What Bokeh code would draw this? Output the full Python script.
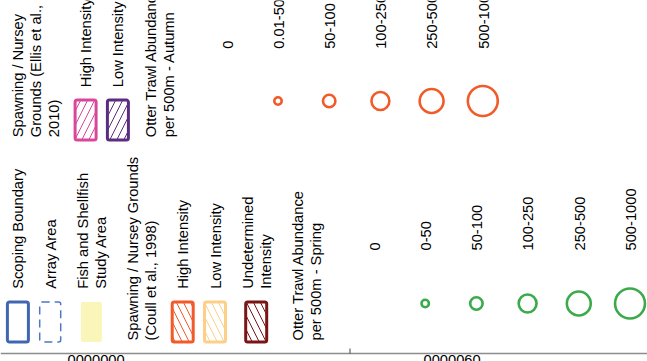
import numpy as np
from bokeh.plotting import figure
from bokeh.models import Range1d
from bokeh.core.properties import value
from bokeh.embed import file_html
from bokeh.resources import INLINE

# ---------------- data ----------------
area_labels = ["Scoping Boundary", "Array Area", "Fish and Shellfish\nStudy Area"]
coull_title = "Spawning / Nursey Grounds\n(Coull et al., 1998)"
coull_labels = ["High Intensity", "Low Intensity", "Undetermined\nIntensity"]
spring_title = "Otter Trawl Abundance\nper 500m - Spring"
spring_classes = ["0", "0-50", "50-100", "100-250", "250-500", "500-1000"]

ellis_title = "Spawning / Nursey\nGrounds (Ellis et al.,\n2010)"
ellis_labels = ["High Intensity", "Low Intensity"]
autumn_title = "Otter Trawl Abundance\nper 500m - Autumn"
autumn_classes = ["0", "0.01-50", "50-100", "100-250", "250-500", "500-1000"]

# map-frame coordinate labels (cut off at the bottom edge)
frame_labels = ["0000000", "0000060"]

# ---------------- styles ----------------
FONT = value("Liberation Sans")
FS = "14.7px"
LH = 17.8       # line step (rotated text)
GAP = 32.3      # gap between entries
TEXT_DX = -4.5  # renderer offset correction for rotated text
CLASS_STEP = 51.2
RECT_W, RECT_H = 21, 40
RING_OUTER = [0, 10, 15, 20.5, 26.5, 32.5]
RING_LW = 2.6

area_styles = [
    dict(line_color="#4066B1", line_width=3, fill_color="white"),
    dict(line_color="#4E78C4", line_width=1.5, fill_color="white", line_dash="8 5"),
    dict(line_color=None, fill_color="#FAF6BA"),
]
coull_colors = ["#F15A29", "#FDD089", "#7A1517"]
ellis_colors = ["#D9479A", "#5C2C80"]
spring_color = "#3BAA4A"
autumn_color = "#F15A29"

p = figure(width=647, height=361, x_range=Range1d(0, 647), y_range=Range1d(361, 0),
           output_backend="svg", toolbar_location=None, min_border=0,
           x_axis_location=None, y_axis_location=None)
p.grid.visible = False
p.outline_line_color = None
p.background_fill_color = "white"


def put_text(xs, ys, texts):
    p.text(x=[x + TEXT_DX for x in xs], y=ys, text=texts, angle=np.pi / 2,
           text_font=FONT, text_font_size=FS, text_align="left",
           text_baseline="alphabetic", text_color="black")


def draw_text(lines, x0, y0):
    parts = lines.split("\n")
    xs = [x0 + LH * k for k in range(len(parts))]
    put_text(xs, [y0] * len(parts), parts)
    return xs


def draw_rect(cx, cy, style, hatch=None):
    kw = dict(style)
    if hatch:
        kw.update(hatch_pattern=hatch, hatch_color=kw["line_color"], hatch_scale=14,
                  hatch_weight=1)
    p.quad(left=[cx - RECT_W / 2], right=[cx + RECT_W / 2],
           top=[cy - RECT_H / 2], bottom=[cy + RECT_H / 2], border_radius=2, **kw)


def draw_group(entries, x_start, ys, classes, ring_color):
    cursor = x_start
    last = cursor
    for lines, kind, style, hatch in entries:
        y0 = ys["head"] if kind == "head" else ys["item"]
        xs = draw_text(lines, cursor, y0)
        if kind == "sym":
            cx = float(np.mean(xs)) - 5.0
            draw_rect(cx, ys["rect"], style, hatch)
        last = xs[-1]
        cursor = last + GAP
    centers = [last + 53.8 + CLASS_STEP * i for i in range(len(classes))]
    put_text([c + 5.25 for c in centers], [ys["count"]] * len(classes), classes)
    rx = [c for c, o in zip(centers, RING_OUTER) if o > 0]
    rs = [o - RING_LW for o in RING_OUTER if o > 0]
    p.scatter(x=rx, y=[ys["ring"]] * len(rx), size=rs, marker="circle",
              fill_alpha=0, line_color=ring_color, line_width=RING_LW)


left_entries = [(lab, "sym", st, None) for lab, st in zip(area_labels, area_styles)]
left_entries.append((coull_title, "head", None, None))
left_entries += [(lab, "sym", dict(line_color=c, line_width=3, fill_color="white"), "\\")
                 for lab, c in zip(coull_labels, coull_colors)]
left_entries.append((spring_title, "head", None, None))

right_entries = [(ellis_title, "head", None, None)]
right_entries += [(lab, "sym", dict(line_color=c, line_width=3, fill_color="white"), "/")
                  for lab, c in zip(ellis_labels, ellis_colors)]
right_entries.append((autumn_title, "head", None, None))

draw_group(left_entries, 22.4,
           dict(head=340, item=288.3, count=250, rect=321.5, ring=303),
           spring_classes, spring_color)
draw_group(right_entries, 22.2,
           dict(head=136.7, item=86.7, count=48.3, rect=119.6, ring=100.5),
           autumn_classes, autumn_color)

# map frame edge at the bottom, with its tick and cut-off coordinate labels
p.segment(x0=[0], y0=[353], x1=[647], y1=[353], line_color="#8C8C8C", line_width=1.6)
p.segment(x0=[349.5], y0=[348], x1=[349.5], y1=[353], line_color="#444444", line_width=1)
p.text(x=[67, 423], y=[354.5, 354.5], text=frame_labels, text_font=FONT,
       text_font_size=FS, text_align="left", text_baseline="top",
       text_color="black")

open("out.html", "w").write(file_html(p, INLINE))
